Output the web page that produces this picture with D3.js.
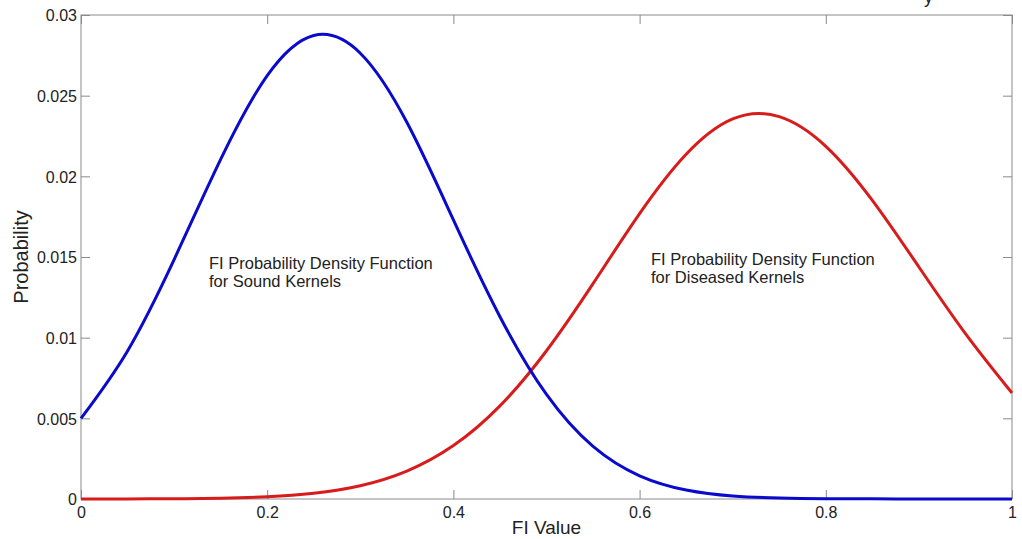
<!DOCTYPE html>
<html>
<head>
<meta charset="utf-8">
<script src="https://cdn.jsdelivr.net/npm/d3@7"></script>
<style>
  html, body { margin: 0; padding: 0; background: #fff; }
  svg { display: block; font-family: "Liberation Sans", Arial, sans-serif; }
</style>
</head>
<body>
<svg id="chart" width="1022" height="539"></svg>
<script>
// ---- data ----
const fiValues = [0, 0.05, 0.10, 0.15, 0.20, 0.25, 0.30, 0.35, 0.40, 0.45, 0.50, 0.55, 0.60, 0.65, 0.70, 0.75, 0.80, 0.85, 0.90, 0.95, 1.0];
const soundKernels = [0.0050, 0.00918, 0.01484, 0.02105, 0.02624, 0.02873, 0.02763, 0.02335, 0.0173, 0.0113, 0.00648, 0.00326, 0.00144, 0.00056, 0.00019, 0.00006, 0.00002, 0.00001, 0.0, 0.0, 0.0];
const diseasedKernels = [0.0000014, 0.000006, 0.000017, 0.00005, 0.000142, 0.000358, 0.000825, 0.00173, 0.00331, 0.00577, 0.00919, 0.01335, 0.01769, 0.02137, 0.02356, 0.0237, 0.02186, 0.01851, 0.01438, 0.01025, 0.00657];
const xTicks = [0, 0.2, 0.4, 0.6, 0.8, 1];
const yTicks = [0, 0.005, 0.01, 0.015, 0.02, 0.025, 0.03];
const xTickLabels = ["0", "0.2", "0.4", "0.6", "0.8", "1"];
const yTickLabels = ["0", "0.005", "0.01", "0.015", "0.02", "0.025", "0.03"];
const annotationSound = ["FI Probability Density Function", "for Sound Kernels"];
const annotationDiseased = ["FI Probability Density Function", "for Diseased Kernels"];

// ---- layout ----
const svg = d3.select("#chart");
const L = 81, R = 1012, T = 15, B = 499;
const x = d3.scaleLinear().domain([0, 1]).range([L, R]);
const y = d3.scaleLinear().domain([0, 0.03]).range([B, T]);
const tickLen = 9;
const axisColor = "#8a8a8a";

// box
svg.append("rect").attr("x", L).attr("y", T).attr("width", R - L).attr("height", B - T)
  .attr("fill", "none").attr("stroke", axisColor).attr("stroke-width", 1);

// axes with inward ticks
const xAxisBottom = d3.axisBottom(x).tickValues(xTicks).tickSize(-tickLen).tickPadding(8)
  .tickFormat((d, i) => xTickLabels[i]);
const gxb = svg.append("g").attr("transform", `translate(0,${B})`).call(xAxisBottom);
const xAxisTop = d3.axisTop(x).tickValues(xTicks).tickSize(-tickLen).tickFormat("");
const gxt = svg.append("g").attr("transform", `translate(0,${T})`).call(xAxisTop);
const yAxisLeft = d3.axisLeft(y).tickValues(yTicks).tickSize(-tickLen).tickPadding(4)
  .tickFormat((d, i) => yTickLabels[i]);
const gyl = svg.append("g").attr("transform", `translate(${L},0)`).call(yAxisLeft);
const yAxisRight = d3.axisRight(y).tickValues(yTicks).tickSize(-tickLen).tickFormat("");
const gyr = svg.append("g").attr("transform", `translate(${R},0)`).call(yAxisRight);

[gxb, gxt, gyl, gyr].forEach(g => {
  g.select(".domain").remove();
  g.selectAll(".tick line").attr("stroke", axisColor);
  g.selectAll(".tick text").attr("fill", "#222").style("font-size", "16px")
    .style("font-family", '"Liberation Sans", Arial, sans-serif');
});
gxb.selectAll(".tick text").attr("dy", "0.71em");
gyl.selectAll(".tick text").attr("dy", "0.36em");

// curves
const line = d3.line().x(d => x(d[0])).y(d => y(Math.max(0, d[1]))).curve(d3.curveNatural);
svg.append("path").datum(fiValues.map((v, i) => [v, diseasedKernels[i]]))
  .attr("d", line).attr("fill", "none").attr("stroke", "#d81c1c").attr("stroke-width", 3);
svg.append("path").datum(fiValues.map((v, i) => [v, soundKernels[i]]))
  .attr("d", line).attr("fill", "none").attr("stroke", "#0a0acc").attr("stroke-width", 3);

// axis labels
svg.append("text").attr("x", x(0.5)).attr("y", 534).attr("text-anchor", "middle")
  .attr("fill", "#222").style("font-size", "19px").text("FI Value");
svg.append("text").attr("transform", `translate(28,${(T + B) / 2}) rotate(-90)`)
  .attr("text-anchor", "middle").attr("fill", "#222").style("font-size", "20px").text("Probability");

// annotations
function annot(lines, ax, ay) {
  const t = svg.append("text").attr("fill", "#222").style("font-size", "16.5px");
  lines.forEach((s, i) => t.append("tspan").attr("x", ax).attr("y", ay + i * 18).text(s));
}
annot(annotationSound, 209, 269);
annot(annotationDiseased, 651, 265);

// cropped glyph at top edge (as in the reference)
svg.append("text").attr("x", 924).attr("y", 3).attr("fill", "#222").style("font-size", "18px").text("y");
</script>
</body>
</html>
